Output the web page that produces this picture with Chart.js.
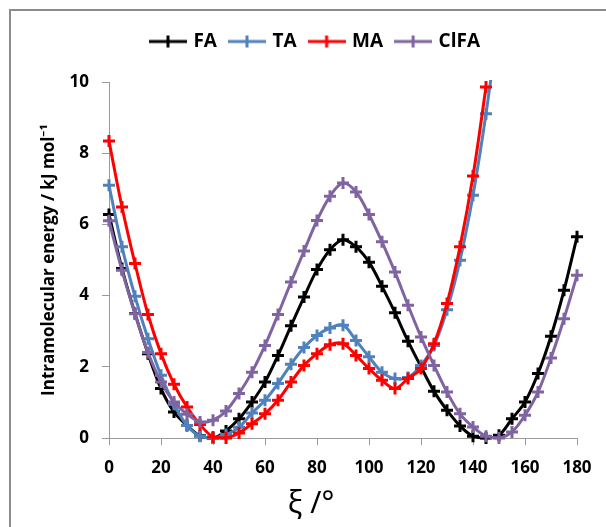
<!DOCTYPE html>
<html>
<head>
<meta charset="utf-8">
<title>Intramolecular energy</title>
<script src="https://cdn.jsdelivr.net/npm/chart.js@4.4.1/dist/chart.umd.min.js"></script>
<style>
    html, body { margin: 0; padding: 0; background: #fff; }
    #wrap { position: relative; width: 606px; height: 527px; overflow: hidden; }
    .frame {
        position: absolute; left: 9px; top: 9px; width: 620px; height: 540px;
        border-left: 2px solid #8c8c8c; border-top: 2px solid #8c8c8c;
    }
    canvas { position: absolute; left: 0; top: 0; }
</style>
</head>
<body>
<div id="wrap">
    <div class="frame"></div>
    <canvas id="energyChart" width="606" height="527"></canvas>
</div>
<script>
// torsion angle xi (deg)
const angles = [0, 5, 10, 15, 20, 25, 30, 35, 40, 45, 50, 55, 60, 65, 70, 75, 80, 85, 90,
    95, 100, 105, 110, 115, 120, 125, 130, 135, 140, 145, 150, 155, 160, 165, 170, 175, 180];

// energies in kJ/mol
const faValues = [6.28, 4.76, 3.5, 2.37, 1.39, 0.73, 0.35, 0.06, 0.0, 0.2, 0.54, 1.01, 1.57, 2.32, 3.15, 3.96, 4.73, 5.29, 5.57,
    5.37, 4.94, 4.26, 3.52, 2.72, 2.0, 1.31, 0.78, 0.34, 0.05, 0.0, 0.08, 0.54, 1.01, 1.81, 2.86, 4.15, 5.65];
const taValues = [7.10, 5.37, 3.98, 2.79, 1.76, 0.95, 0.35, 0.05, 0.0, 0.1, 0.3, 0.70, 1.06, 1.53, 2.07, 2.54, 2.88, 3.09, 3.17,
    2.74, 2.28, 1.85, 1.67, 1.70, 2.04, 2.6, 3.6, 4.99, 6.82, 9.11, 11.8];
const maValues = [8.34, 6.49, 4.90, 3.47, 2.37, 1.51, 0.87, 0.38, 0.03, 0.0, 0.14, 0.40, 0.68, 1.06, 1.57, 2.04, 2.37, 2.62, 2.65,
    2.32, 1.95, 1.62, 1.39, 1.67, 1.95, 2.65, 3.78, 5.37, 7.36, 9.86];
const clfaValues = [6.10, 4.71, 3.49, 2.40, 1.57, 1.01, 0.67, 0.45, 0.50, 0.76, 1.25, 1.85, 2.60, 3.47, 4.38, 5.25, 6.11, 6.79, 7.16,
    6.91, 6.28, 5.51, 4.66, 3.73, 2.84, 2.04, 1.29, 0.68, 0.31, 0.05, 0.0, 0.17, 0.64, 1.29, 2.25, 3.35, 4.57];

const seriesNames = ['FA', 'TA', 'MA', 'ClFA'];
const seriesColors = ['#000000', '#4f81bd', '#ff0000', '#8064a2'];
const xTicks = [0, 20, 40, 60, 80, 100, 120, 140, 160, 180];
const yTicks = [0, 2, 4, 6, 8, 10];
const yTitle = 'Intramolecular energy / kJ mol\u207B\u00B9';
const xTitle = '\u03BE /\u00B0';

const axisColor = '#9a9a9a';
const fontFamily = '"Open Sans", "Noto Sans", sans-serif';
const tickFont = { family: fontFamily, size: 17, weight: 'bold' };

// line with a cross on it, like the excel legend key
function makeLegendIcon(color) {
    const c = document.createElement('canvas');
    c.width = 38;
    c.height = 16;
    const g = c.getContext('2d');
    g.strokeStyle = color;
    g.lineWidth = 3;
    g.beginPath();
    g.moveTo(0, 8); g.lineTo(38, 8);
    g.moveTo(19, 2); g.lineTo(19, 14);
    g.stroke();
    return c;
}
const legendIcons = seriesColors.map(makeLegendIcon);

function makeSeries(idx, values) {
    const color = seriesColors[idx];
    return {
        label: seriesNames[idx],
        order: 4 - idx, // later series on top, as in excel
        data: values.map((v, i) => ({ x: angles[i], y: v })),
        borderColor: color,
        backgroundColor: color,
        borderWidth: 3,
        tension: 0.35,
        pointStyle: 'cross',
        pointRadius: 6,
        pointHoverRadius: 6,
        pointBorderWidth: 3,
        pointBorderColor: color,
        clip: { left: 12, right: 12, top: 2, bottom: 12 }
    };
}

const xTitlePlugin = {
    id: 'xTitle',
    afterDraw(chart) {
        const ctx = chart.ctx;
        ctx.save();
        ctx.font = '30px "Noto Sans", "DejaVu Sans", sans-serif';
        ctx.fillStyle = '#000';
        ctx.textAlign = 'center';
        ctx.textBaseline = 'alphabetic';
        ctx.fillText(xTitle, 311, 513);
        ctx.restore();
    }
};

const ctx = document.getElementById('energyChart').getContext('2d');
new Chart(ctx, {
    type: 'line',
    data: {
        datasets: [
            makeSeries(0, faValues),
            makeSeries(1, taValues),
            makeSeries(2, maValues),
            makeSeries(3, clfaValues)
        ]
    },
    options: {
        responsive: false,
        animation: false,
        events: [],
        layout: {
            // wide left padding keeps the legend where excel put it
            padding: { left: 55, right: 29, top: 18, bottom: 0 }
        },
        plugins: {
            tooltip: { enabled: false },
            legend: {
                position: 'top',
                labels: {
                    usePointStyle: true,
                    pointStyleWidth: 32,
                    padding: 14,
                    color: '#000',
                    font: { family: fontFamily, size: 19, weight: 'bold' },
                    generateLabels(chart) {
                        const items = Chart.defaults.plugins.legend.labels.generateLabels(chart);
                        items.forEach(item => { item.pointStyle = legendIcons[item.datasetIndex]; });
                        return items;
                    },
                    sort: (a, b) => a.datasetIndex - b.datasetIndex
                }
            },
            // empty spacer between legend and plot
            subtitle: {
                display: true,
                text: '',
                weight: 500,
                font: { size: 13, lineHeight: 1 },
                padding: { top: 0, bottom: 8 }
            }
        },
        scales: {
            x: {
                type: 'linear',
                min: 0,
                max: 180,
                afterFit: (scale) => { scale.height = 89; },
                afterBuildTicks: (scale) => { scale.ticks = xTicks.map(v => ({ value: v })); },
                border: { color: axisColor, width: 1 },
                grid: { drawOnChartArea: false, drawTicks: true, tickLength: 7, color: axisColor },
                ticks: { color: '#000', font: tickFont, padding: 13, maxRotation: 0 }
            },
            y: {
                min: 0,
                max: 10,
                afterFit: (scale) => { scale.width = 54; },
                afterBuildTicks: (scale) => { scale.ticks = yTicks.map(v => ({ value: v })); },
                border: { color: axisColor, width: 1 },
                grid: { drawOnChartArea: false, drawTicks: true, tickLength: 7, color: axisColor },
                ticks: { color: '#000', font: tickFont, padding: 13 },
                title: {
                    display: true,
                    text: yTitle,
                    color: '#000',
                    font: { family: fontFamily, size: 17, weight: 'bold' },
                    padding: { top: -16, bottom: 0 }
                }
            }
        }
    },
    plugins: [xTitlePlugin]
});
</script>
</body>
</html>
